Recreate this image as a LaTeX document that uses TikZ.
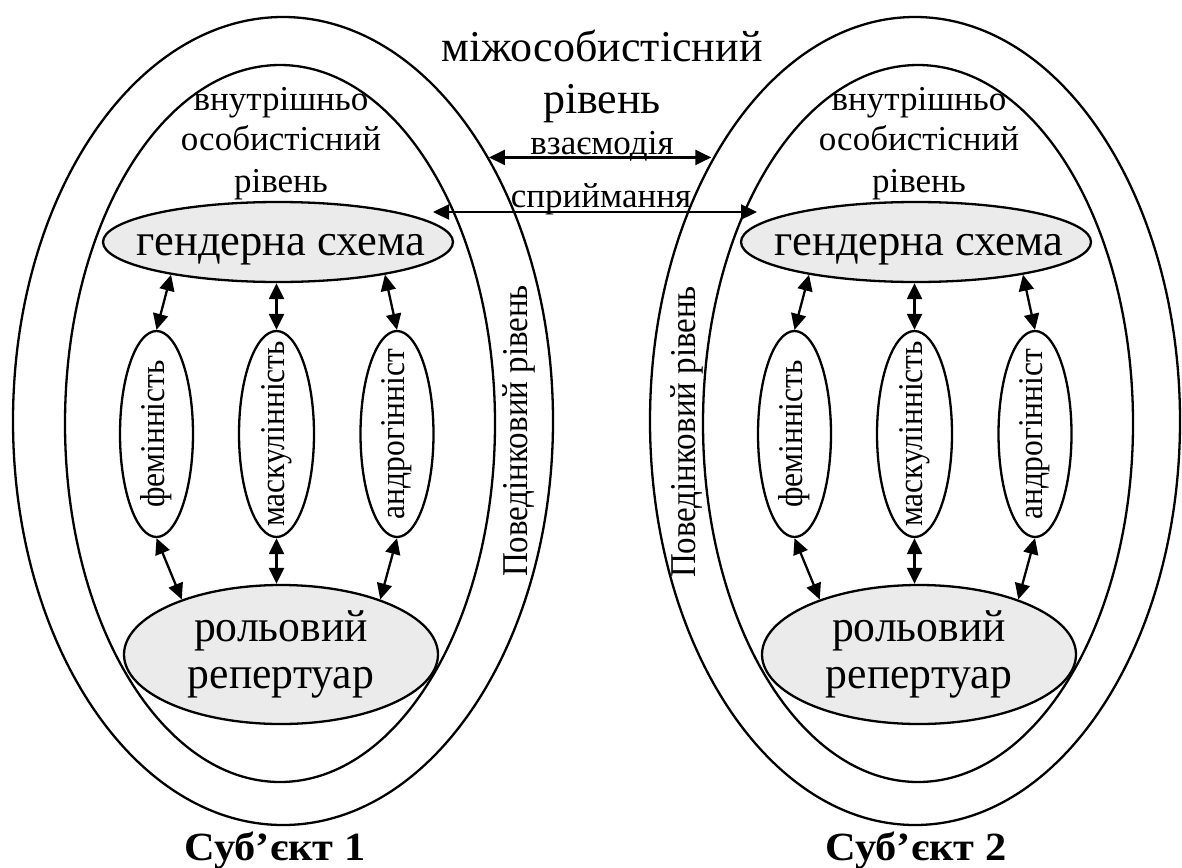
\documentclass[tikz,border=0pt]{standalone}
\usepackage{fontspec}
\setmainfont{Liberation Serif}
\usepackage{graphicx}
\usetikzlibrary{shapes.geometric,arrows.meta}
\newcommand{\myhs}[2][1]{\scalebox{#1}[1]{#2}}
\newcommand{\myvt}[1]{\scalebox{1.1}[1]{\rotatebox{90}{#1}}}
\begin{document}
\begin{tikzpicture}[x=1pt,y=-1pt,
  oval/.style={ellipse,draw,line width=2.3pt,inner sep=0pt},
  shaded/.style={fill=black!8},
  bigtxt/.style={font=\fontsize{45}{47}\selectfont,anchor=base,inner sep=0pt},
  midtxt/.style={font=\fontsize{44}{51}\selectfont,anchor=base,inner sep=0pt},
  smalltxt/.style={font=\fontsize{35}{41}\selectfont,anchor=base,inner sep=0pt},
  rottxt/.style={font=\fontsize{31.5}{36}\selectfont,inner sep=0pt},
  behtxt/.style={font=\fontsize{33}{36}\selectfont,inner sep=0pt},
  subjtxt/.style={font=\fontsize{40}{40}\selectfont\bfseries,anchor=base,inner sep=0pt},
  dbl/.style={line width=2.3pt,{Triangle[length=16pt,width=15pt]}-{Triangle[length=16pt,width=15pt]}},
]
\useasboundingbox (0,0) rectangle (1182,867);

% outer ellipses (behavioural level)
\node[oval,minimum width=540pt,minimum height=808pt] (outer1) at (283,421) {};
\node[oval,minimum width=530pt,minimum height=808pt] (outer2) at (915,421) {};

\foreach \i/\dx in {1/0,2/638}{
  \node[oval,minimum width=430pt,minimum height=717pt] (inner\i) at (280+\dx,423.5) {};
  \node[smalltxt] (ta\i) at (281+\dx,110) {внутрішньо};
  \node[smalltxt] (tb\i) at (281+\dx,150) {особистісний};
  \node[smalltxt] (tc\i) at (281+\dx,192) {рівень};
  \node[oval,shaded,minimum width=350pt,minimum height=80pt] (gs\i) at (278+\dx,242) {};
  \node[bigtxt] (gst\i) at (281+\dx,255.5) {\myhs[0.99]{гендерна схема}};
  \node[oval,minimum width=73pt,minimum height=206pt] (fem\i) at (156.5+\dx,434) {};
  \node[oval,minimum width=75pt,minimum height=206pt] (masc\i) at (276.5+\dx,434) {};
  \node[oval,minimum width=73pt,minimum height=206pt] (andro\i) at (397+\dx,434) {};
  \node[rottxt] (femt\i) at (fem\i) {\myvt{фемінність}};
  \node[rottxt] (masct\i) at (masc\i) {\myvt{маскулінність}};
  \node[rottxt] (androt\i) at (andro\i) {\myvt{андрогінніст}};
  \node[oval,shaded,minimum width=314pt,minimum height=139pt] (rr\i) at (281+\dx,654.5) {};
  \node[bigtxt] (rra\i) at (281+\dx,641) {\myhs[0.97]{рольовий}};
  \node[bigtxt] (rrb\i) at (281+\dx,688) {\myhs[0.97]{репертуар}};
  \draw[dbl] (gs\i.197) -- (fem\i.north);
  \draw[dbl] (masc\i.north |- gs\i.south) -- (masc\i.north);
  \draw[dbl] (gs\i.343) -- (andro\i.north);
  \draw[dbl] (fem\i.south) -- (rr\i.151);
  \draw[dbl] (masc\i.south) -- (masc\i.south |- rr\i.north);
  \draw[dbl] (andro\i.south) -- (rr\i.29);
}

\node[behtxt] (beh1) at (519,431) {\myvt{Поведінковий рівень}};
\node[behtxt] (beh2) at (687,432) {\myvt{Поведінковий рівень}};

\node[midtxt] (mz1) at (602,62) {міжособистісний};
\node[midtxt] (mz2) at (602,113) {рівень};
\node[smalltxt] (vz) at (602,154) {взаємодія};
\node[smalltxt] (sp) at (601,207) {сприймання};

\draw[dbl] (outer1.52) -- (outer1.52 -| outer2.128);
\coordinate (pL) at (433,212);
\coordinate (pR) at (757,212);
\draw[dbl] (pL) -- (pR);

\node[subjtxt] (s1) at (275,860) {\myhs[1.06]{Суб’єкт 1}};
\node[subjtxt] (s2) at (916,860) {\myhs[1.06]{Суб’єкт 2}};
\end{tikzpicture}
\end{document}
